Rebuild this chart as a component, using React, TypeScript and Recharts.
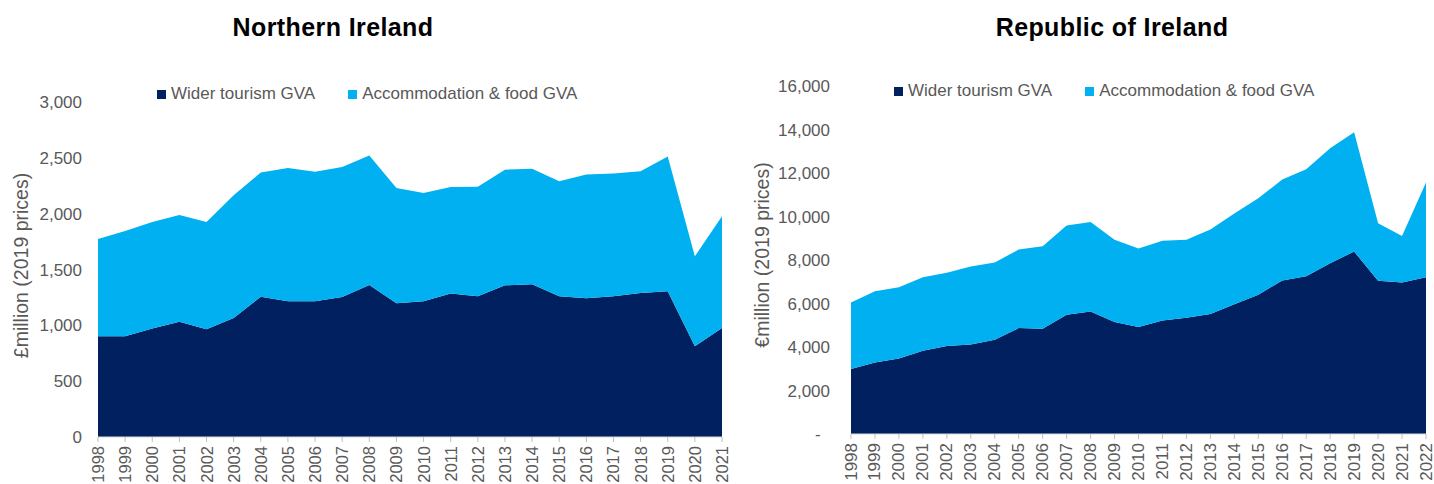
import { AreaChart, Area, XAxis, YAxis, Legend, Label } from 'recharts';

const niYears = [
  '1998', '1999', '2000', '2001', '2002', '2003', '2004', '2005', '2006', '2007', '2008', '2009',
  '2010', '2011', '2012', '2013', '2014', '2015', '2016', '2017', '2018', '2019', '2020', '2021',
];
const niWider = [
  902, 902, 971, 1033, 964, 1066, 1257, 1215, 1215, 1254, 1361, 1197,
  1215, 1284, 1260, 1358, 1367, 1260, 1242, 1260, 1290, 1305, 812, 976,
];
const niAccom = [
  871, 943, 954, 955, 961, 1098, 1111, 1194, 1161, 1164, 1159, 1033,
  970, 955, 982, 1036, 1036, 1030, 1108, 1099, 1089, 1206, 806, 1000,
];
const niTicks = [0, 500, 1000, 1500, 2000, 2500, 3000];

const roiYears = [
  '1998', '1999', '2000', '2001', '2002', '2003', '2004', '2005', '2006', '2007', '2008', '2009',
  '2010', '2011', '2012', '2013', '2014', '2015', '2016', '2017', '2018', '2019', '2020', '2021', '2022',
];
const roiWider = [
  2985, 3292, 3475, 3828, 4042, 4118, 4333, 4869, 4838, 5481, 5634, 5144,
  4915, 5221, 5343, 5512, 5971, 6400, 7058, 7257, 7854, 8390, 7043, 6966, 7211,
];
const roiAccom = [
  3062, 3276, 3277, 3383, 3368, 3583, 3552, 3613, 3797, 4103, 4118, 3782,
  3613, 3659, 3583, 3888, 4164, 4439, 4639, 4914, 5282, 5481, 2648, 2143, 4348,
];
const roiTicks = [0, 2000, 4000, 6000, 8000, 10000, 12000, 14000, 16000];

const seriesOrder = ['wider', 'accom'];

const DARK = '#002060';
const LIGHT = '#00B0F0';
const GREY = '#595959';
const FONT = '"Liberation Sans", Arial, sans-serif';

const niData = niYears.map((year, i) => ({ year, wider: niWider[i], accom: niAccom[i] }));
const roiData = roiYears.map((year, i) => ({ year, wider: roiWider[i], accom: roiAccom[i] }));

const YearTick = ({ x, y, payload, size }: any) => (
  <text
    x={x}
    y={y}
    transform={`rotate(-90 ${x} ${y})`}
    textAnchor="end"
    dominantBaseline="central"
    fontSize={size}
    fill={GREY}
    fontFamily={FONT}
  >
    {payload.value}
  </text>
);

const LegendRow = ({ payload }: any) => {
  const items = [...(payload || [])].sort(
    (a: any, b: any) => seriesOrder.indexOf(a.dataKey) - seriesOrder.indexOf(b.dataKey)
  );
  return (
    <div style={{ display: 'flex', alignItems: 'center', fontSize: 17, color: GREY, fontFamily: FONT }}>
      {items.map((entry: any, i: number) => (
        <div key={i} style={{ display: 'flex', alignItems: 'center', marginRight: 33 }}>
          <span style={{ width: 9, height: 9, background: entry.color, marginRight: 5, display: 'inline-block' }} />
          <span style={{ whiteSpace: 'nowrap' }}>{entry.value}</span>
        </div>
      ))}
    </div>
  );
};

interface PanelProps {
  data: any[];
  title: string;
  yLabel: string;
  ticks: number[];
  left: number;
  width: number;
  margin: { top: number; right: number; bottom: number; left: number };
  yWidth: number;
  yTickMargin: number;
  xTickMargin: number;
  xTickSize: number;
  labelX: number;
  labelShift: number;
  legendPos: { left: number; top: number };
  titleCenter: number;
  zeroDash?: boolean;
}

function Panel(p: PanelProps) {
  const fmt = (v: number) => (v === 0 && p.zeroDash ? '-\u00A0\u00A0' : v.toLocaleString('en-US'));
  return (
    <div style={{ position: 'absolute', left: p.left, top: 0, width: p.width, height: 484 }}>
      <div
        style={{
          position: 'absolute',
          left: p.titleCenter - p.left - 200,
          width: 400,
          top: 13,
          textAlign: 'center',
          fontFamily: FONT,
          fontWeight: 'bold',
          fontSize: 25,
          letterSpacing: 0.4,
          color: '#000',
        }}
      >
        {p.title}
      </div>
      <AreaChart width={p.width} height={484} data={p.data} margin={p.margin}>
        <XAxis
          dataKey="year"
          height={30}
          interval={0}
          tickSize={5}
          tickMargin={p.xTickMargin}
          tickLine={{ stroke: '#BFBFBF' }}
          axisLine={{ stroke: '#D9D9D9' }}
          tick={<YearTick size={p.xTickSize} />}
        />
        <YAxis
          width={p.yWidth}
          domain={[p.ticks[0], p.ticks[p.ticks.length - 1]]}
          ticks={p.ticks}
          interval={0}
          axisLine={false}
          tickLine={false}
          tickSize={0}
          tickMargin={p.yTickMargin}
          tickFormatter={fmt}
          tick={{ fill: GREY, fontSize: 17, fontFamily: FONT }}
        >
          <Label
            content={({ viewBox }: any) => {
              const cy = viewBox.y + viewBox.height / 2 + p.labelShift;
              return (
                <text
                  x={p.labelX}
                  y={cy}
                  transform={`rotate(-90 ${p.labelX} ${cy})`}
                  textAnchor="middle"
                  dominantBaseline="central"
                  fontSize={19.5}
                  fill={GREY}
                  fontFamily={FONT}
                >
                  {p.yLabel}
                </text>
              );
            }}
          />
        </YAxis>
        <Legend
          layout="vertical"
          verticalAlign="middle"
          align="center"
          wrapperStyle={{ left: p.legendPos.left, top: p.legendPos.top, width: 'auto' }}
          content={<LegendRow />}
        />
        <Area
          type="linear"
          dataKey="wider"
          name="Wider tourism GVA"
          stackId="gva"
          stroke="none"
          fill={DARK}
          fillOpacity={1}
          isAnimationActive={false}
        />
        <Area
          type="linear"
          dataKey="accom"
          name="Accommodation & food GVA"
          stackId="gva"
          stroke="none"
          fill={LIGHT}
          fillOpacity={1}
          isAnimationActive={false}
        />
      </AreaChart>
    </div>
  );
}

export default function App() {
  return (
    <div style={{ position: 'relative', width: 1434, height: 484, background: '#fff', overflow: 'hidden' }}>
      <style>{'body{margin:0}'}</style>
      <Panel
        data={niData}
        title="Northern Ireland"
        yLabel="£million (2019 prices)"
        ticks={niTicks}
        left={0}
        width={740}
        margin={{ top: 102, right: 18, bottom: 17, left: 0 }}
        yWidth={98}
        yTickMargin={16}
        xTickMargin={4}
        xTickSize={16.5}
        labelX={21}
        labelShift={-4}
        legendPos={{ left: 157, top: 84 }}
        titleCenter={333}
      />
      <Panel
        data={roiData}
        title="Republic of Ireland"
        yLabel="€million (2019 prices)"
        ticks={roiTicks}
        left={730}
        width={704}
        margin={{ top: 86, right: 8, bottom: 20, left: 0 }}
        yWidth={121}
        yTickMargin={21}
        xTickMargin={4}
        xTickSize={17}
        labelX={32}
        labelShift={-5}
        legendPos={{ left: 164, top: 81 }}
        titleCenter={1112}
        zeroDash
      />
    </div>
  );
}
